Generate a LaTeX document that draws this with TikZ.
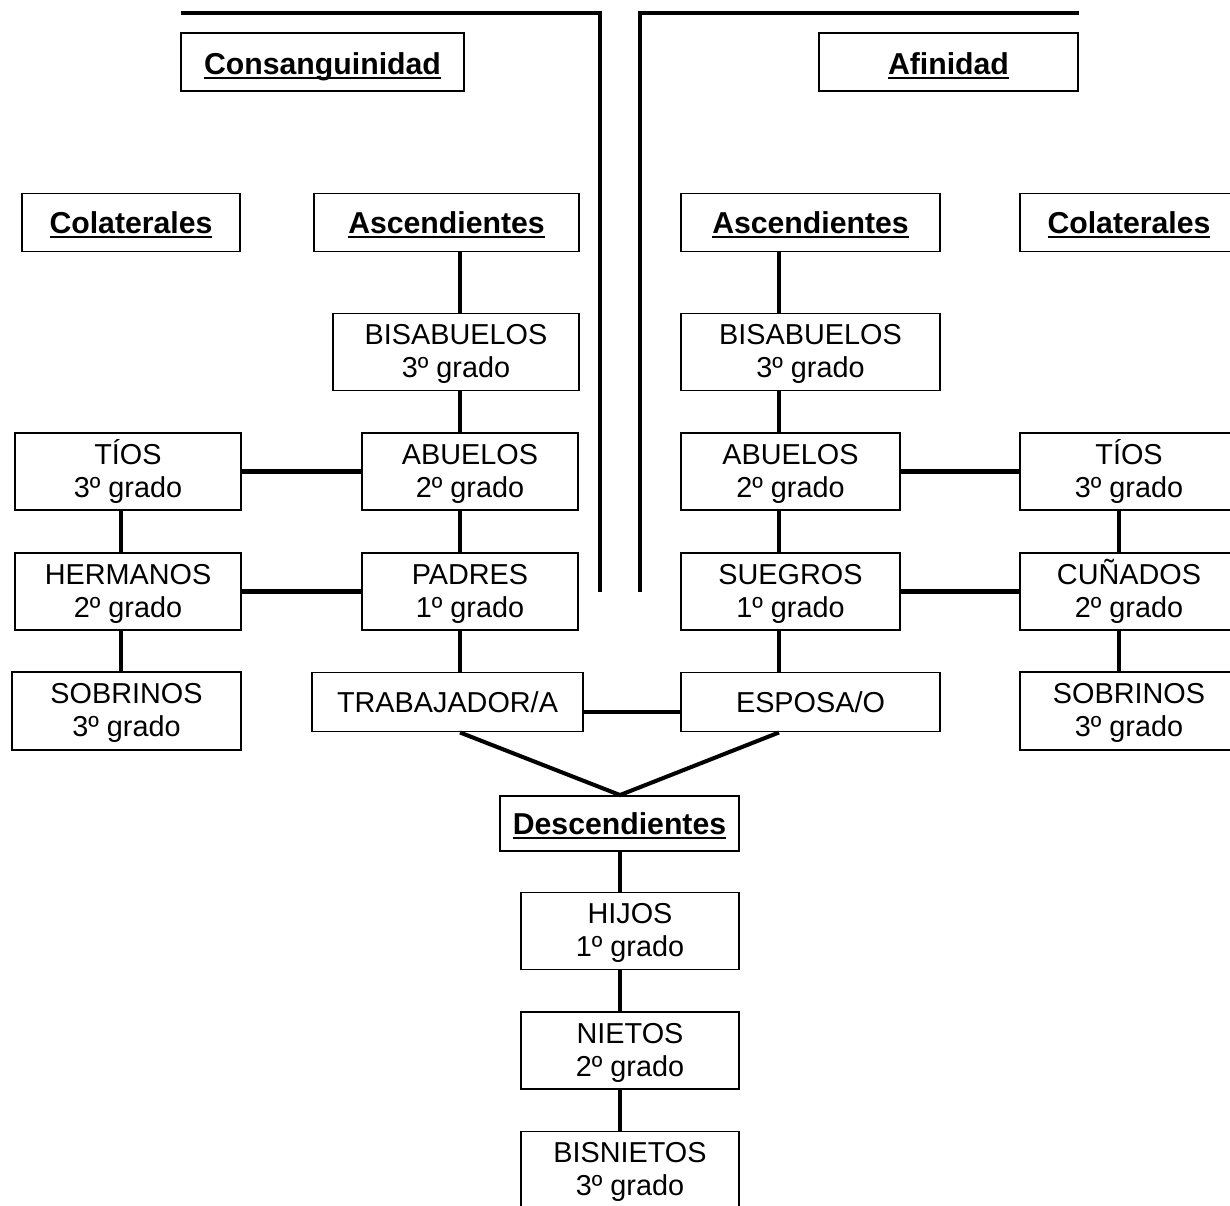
\documentclass[tikz,border=0pt]{standalone}
\usepackage{fontspec}
\setmainfont{Liberation Sans}
\usepackage{tikz}
\usetikzlibrary{positioning}
\newcommand{\rotulo}[1]{\sbox0{\textbf{#1}}\rlap{\rule[-2.4pt]{\wd0}{1.1pt}}\usebox0}

\begin{document}
\begin{tikzpicture}[
		x=0.02cm, y=-0.02cm,
		caja/.style={draw, line width=1.1pt, align=center, inner sep=0pt,
			text height=12pt, text depth=0pt, font=\fontsize{16.4}{18.7}\selectfont},
		cabecera/.style={caja, minimum height=1.16cm, text height=12.8pt,
			font=\fontsize{17.2}{19.5}\selectfont},
		grado/.style={caja, minimum width=4.36cm, minimum height=1.54cm,
			text height=29.2pt, text depth=0pt},
		linea/.style={line width=2.3pt}]
		\useasboundingbox (0,0) rectangle (1230,1205);
		\clip (0,0) rectangle (1230,1205);

		\coordinate (ejeA) at (460,0);
		\coordinate (ejeB) at (779,0);
		\coordinate (ejeC) at (121,0);
		\coordinate (ejeD) at (1119,0);
		\coordinate (ejeE) at (620,0);

		\draw [linea] (181,13) -- (600,13) -- (600,592);
		\draw [linea] (640,592) -- (640,13) -- (1079,13);

		\node [cabecera, minimum width=5.66cm, text height=14pt] (cons) at (322.5,62) {\rotulo{Consanguinidad}};
		\node [cabecera, minimum width=5.18cm, text height=14pt] (afin) at (948.5,62) {\rotulo{Afinidad}};

		\node [cabecera, minimum width=4.36cm] (colL) at (131,222.5) {\rotulo{Colaterales}};
		\node [cabecera, minimum width=5.3cm] (ascL) at (446.5,222.5) {\rotulo{Ascendientes}};
		\node [cabecera, minimum width=5.18cm] (ascR) at (810.5,222.5) {\rotulo{Ascendientes}};
		\node [cabecera, minimum width=4.36cm] (colR) at (1129,222.5) {\rotulo{Colaterales}};

		\node [grado, minimum width=4.92cm] (bisL) at (456,352) {BISABUELOS\\3º grado};
		\node [grado, minimum width=5.18cm] (bisR) at (810.5,352) {BISABUELOS\\3º grado};

		\node [grado, minimum width=4.52cm] (tiosL) at (128,471.5) {TÍOS\\3º grado};
		\node [grado, minimum width=4.32cm] (abuL) at (470,471.5) {ABUELOS\\2º grado};
		\node [grado, minimum width=4.38cm] (abuR) at (790.5,471.5) {ABUELOS\\2º grado};
		\node [grado] (tiosR) at (1129,471.5) {TÍOS\\3º grado};

		\node [grado, minimum width=4.52cm] (herm) at (128,591.5) {HERMANOS\\2º grado};
		\node [grado, minimum width=4.32cm] (padres) at (470,591.5) {PADRES\\1º grado};
		\node [grado, minimum width=4.38cm] (suegros) at (790.5,591.5) {SUEGROS\\1º grado};
		\node [grado] (cunados) at (1129,591.5) {CUÑADOS\\2º grado};

		\node [grado, minimum width=4.58cm, minimum height=1.56cm] (sobL) at (126.5,711) {SOBRINOS\\3º grado};
		\node [caja, minimum width=5.42cm, minimum height=1.18cm] (trab) at (447.5,702) {TRABAJADOR/A};
		\node [caja, minimum width=5.18cm, minimum height=1.18cm] (esposa) at (810.5,702) {ESPOSA/O};
		\node [grado, minimum height=1.56cm] (sobR) at (1129,711) {SOBRINOS\\3º grado};

		\node [cabecera, minimum width=4.78cm, minimum height=1.1cm] (desc) at (619.5,823.5) {\rotulo{Descendientes}};
		\node [grado] (hijos) at (630,931) {HIJOS\\1º grado};
		\node [grado] (nietos) at (630,1050.5) {NIETOS\\2º grado};
		\node [grado] (bisn) at (630,1170) {BISNIETOS\\3º grado};

		\draw [linea] (ascL.south -| ejeA) -- (bisL.north -| ejeA);
		\draw [linea] (bisL.south -| ejeA) -- (abuL.north -| ejeA);
		\draw [linea] (abuL.south -| ejeA) -- (padres.north -| ejeA);
		\draw [linea] (padres.south -| ejeA) -- (trab.north -| ejeA);

		\draw [linea] (ascR.south -| ejeB) -- (bisR.north -| ejeB);
		\draw [linea] (bisR.south -| ejeB) -- (abuR.north -| ejeB);
		\draw [linea] (abuR.south -| ejeB) -- (suegros.north -| ejeB);
		\draw [linea] (suegros.south -| ejeB) -- (esposa.north -| ejeB);

		\draw [linea] (tiosL.south -| ejeC) -- (herm.north -| ejeC);
		\draw [linea] (herm.south -| ejeC) -- (sobL.north -| ejeC);
		\draw [linea] (tiosR.south -| ejeD) -- (cunados.north -| ejeD);
		\draw [linea] (cunados.south -| ejeD) -- (sobR.north -| ejeD);

		\draw [linea] (tiosL) -- (abuL);
		\draw [linea] (herm) -- (padres);
		\draw [linea] (abuR) -- (tiosR);
		\draw [linea] (suegros) -- (cunados);
		\draw [linea] ([yshift=-0.2cm]trab.east) -- ([yshift=-0.2cm]esposa.west);

		\draw [linea] (trab.south -| ejeA) -- (desc.north -| ejeE) -- (esposa.south -| ejeB);
		\draw [linea] (desc.south -| ejeE) -- (hijos.north -| ejeE);
		\draw [linea] (hijos.south -| ejeE) -- (nietos.north -| ejeE);
		\draw [linea] (nietos.south -| ejeE) -- (bisn.north -| ejeE);
		\end{tikzpicture}
\end{document}
